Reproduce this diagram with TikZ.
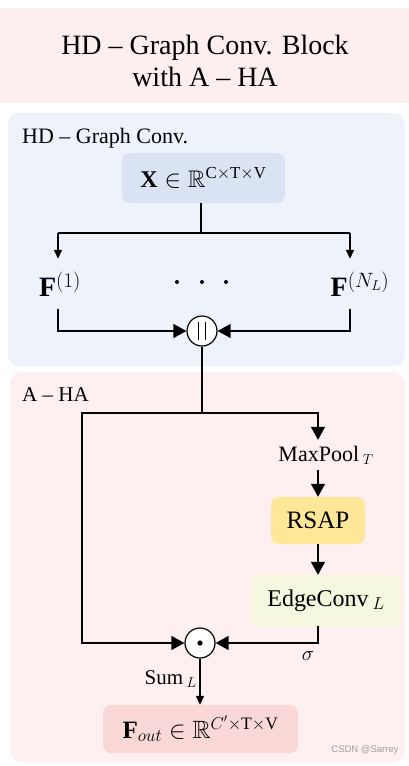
\documentclass[tikz,border=0pt]{standalone}
\usepackage{amsmath,amssymb}
\usepackage{fontspec}
\setmainfont{Liberation Serif}
\newfontfamily\wmfont{Liberation Sans}
\usetikzlibrary{arrows.meta}
\definecolor{titlebg}{HTML}{FDEFEF}
\definecolor{bluepanel}{HTML}{EEF2FB}
\definecolor{xboxc}{HTML}{DAE3F3}
\definecolor{pinkpanel}{HTML}{FEF0F0}
\definecolor{rsapc}{HTML}{FFE699}
\definecolor{edgec}{HTML}{F6F7DF}
\definecolor{foutc}{HTML}{FBD8D8}
\begin{document}
\begin{tikzpicture}[x=1pt,y=-1pt,
  line/.style={line width=1.3pt},
  arrS/.style={line width=1.3pt,-{Triangle[length=9pt,width=8pt]}},
  arrB/.style={line width=1.3pt,-{Triangle[length=13pt,width=14pt]}},
  box/.style={rounded corners=8pt,inner sep=0pt},
  circ/.style={circle,draw,fill=white,line width=1.2pt,minimum size=30pt,inner sep=0pt},
  mathtxt/.style={font=\fontsize{24}{28}\selectfont},
  lbltxt/.style={font=\fontsize{22}{26}\selectfont,inner sep=0pt},
  fnode/.style={font=\fontsize{28}{32}\selectfont,minimum height=50pt,inner sep=0pt}]
\useasboundingbox (0,0) rectangle (409,766);
\fill[white] (0,0) rectangle (409,766);
% title
\fill[titlebg] (0,8) rectangle (409,103);
\node[font=\fontsize{28}{32}\selectfont,align=center] (title) at (205,61) {HD – Graph Conv. Block\\with A – HA};
% panels
\fill[bluepanel,rounded corners=10pt] (8,113) rectangle (405,366);
\fill[pinkpanel,rounded corners=12pt] (10,372) rectangle (405,762);
\node[anchor=base west,font=\fontsize{22}{26}\selectfont,inner sep=0pt] (lbl1) at (22,143) {HD – Graph Conv.};
\node[anchor=base west,font=\fontsize{21}{25}\selectfont,inner sep=0pt] (lbl2) at (22,401) {A – HA};
% X box
\node[box,fill=xboxc,minimum width=163pt,minimum height=50pt,mathtxt] (x) at (203.5,178) {$\mathbf{X}\in\mathbb{R}^{\mathrm{C\times T\times V}}$};
\coordinate (sp) at (201,233);
\coordinate (bl) at (58,233);
\coordinate (br) at (350,233);
\node[fnode] (f1) at (60,284) {$\mathbf{F}^{(1)}$};
\node[fnode] (fn) at (360,284) {$\mathbf{F}^{(N_L)}$};
\fill (177,282) circle (2pt) (202,282) circle (2pt) (226,282) circle (2pt);
\draw[line] (x.south -| sp) -- (sp);
\draw[line] (bl) -- (br);
\draw[arrS] (bl) -- (bl |- f1.north);
\draw[arrS] (br) -- (br |- fn.north);
% concat
\node[circ] (cat) at (202,331) {};
\draw[line width=1.6pt] ([xshift=-3.5pt,yshift=-9pt]cat.center) -- ([xshift=-3.5pt,yshift=9pt]cat.center);
\draw[line width=1.6pt] ([xshift=3.5pt,yshift=-9pt]cat.center) -- ([xshift=3.5pt,yshift=9pt]cat.center);
\draw[arrB] (f1.south -| bl) |- (cat);
\draw[arrB] (fn.south -| br) |- (cat);
% A-HA
\coordinate (jn) at (202,413);
\coordinate (jl) at (82,413);
\coordinate (jr) at (318,413);
\draw[line] (cat) -- (jn);
\node[lbltxt,minimum height=30pt] (mp) at (326,455) {MaxPool\,${}_{T}$};
\node[box,fill=rsapc,minimum width=94pt,minimum height=47pt,font=\fontsize{25}{30}\selectfont] (rsap) at (318,520.5) {RSAP};
\node[box,fill=edgec,minimum width=150pt,minimum height=51pt,font=\fontsize{24}{28}\selectfont] (edge) at (326,600.5) {EdgeConv\,${}_{L}$};
\node[circ] (dotc) at (200,643) {};
\fill (dotc.center) circle (2.6pt);
\draw[arrB] (jn) -- (jr) -- (jr |- mp.north);
\draw[arrB] (jr |- mp.south) -- (rsap.north -| jr);
\draw[arrB] (rsap.south) -- (rsap.south |- edge.north);
\draw[arrB] (edge.south -| rsap.south) |- (dotc);
\draw[arrB] (jn) -- (jl) |- (dotc);
\node[font=\fontsize{22}{26}\selectfont,inner sep=0pt] (sig) at (308,656) {$\sigma$};
% output
\node[box,fill=foutc,minimum width=195pt,minimum height=48pt,font=\fontsize{25}{30}\selectfont] (fout) at (200.5,729) {$\mathbf{F}_{out}\in\mathbb{R}^{C'\times\mathrm{T}\times\mathrm{V}}$};
\draw[arrS] (dotc.south) -- (dotc.south |- fout.north);
\node[font=\fontsize{21}{25}\selectfont,inner sep=0pt,anchor=east] (sum) at (197,679) {Sum\,${}_{L}$};
\node[font=\wmfont\fontsize{9.5}{11}\selectfont,text=gray!75,inner sep=0pt] (wm) at (365,750) {CSDN @Sarrey};
\end{tikzpicture}
\end{document}
